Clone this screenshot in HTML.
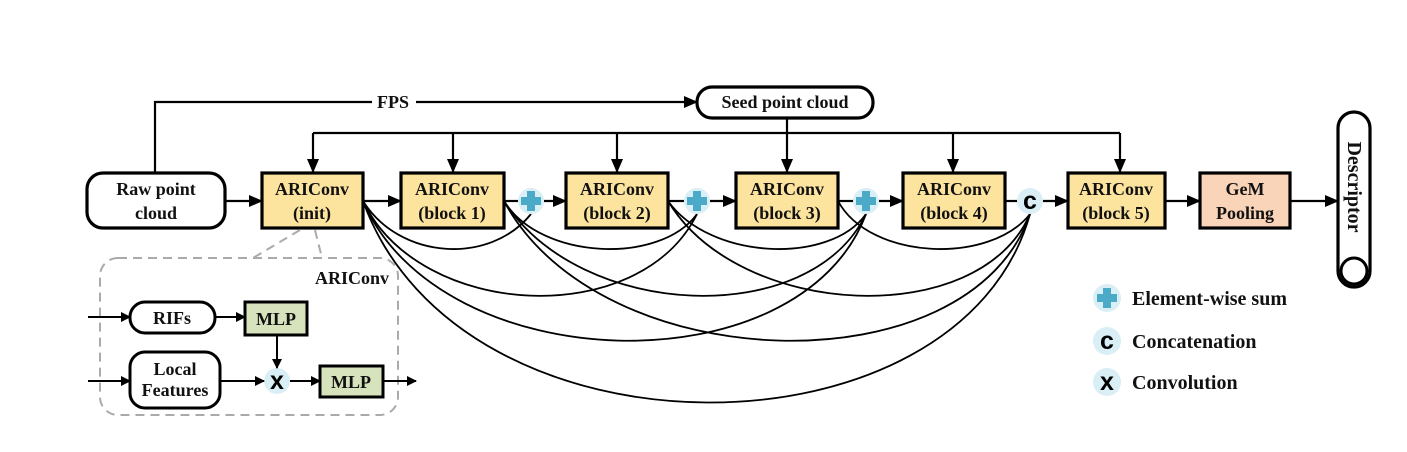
<!DOCTYPE html>
<html><head><meta charset="utf-8"><style>
html,body{margin:0;padding:0;background:#fff;}
svg{display:block;}
text{font-family:"Liberation Serif",serif;font-weight:bold;fill:#111;}
.g{font-family:"Liberation Sans",sans-serif;font-weight:900;fill:#000;}
</style></head><body>
<svg width="1407" height="452" viewBox="0 0 1407 452" xmlns="http://www.w3.org/2000/svg">
<defs>
<marker id="a" markerWidth="10" markerHeight="10" refX="9" refY="5" orient="auto" markerUnits="userSpaceOnUse"><path d="M0,0 L10,5 L0,10 z" fill="#000"/></marker>
<marker id="b" markerWidth="14" markerHeight="14" refX="13" refY="7" orient="auto" markerUnits="userSpaceOnUse"><path d="M0,1 L14,7 L0,13 z" fill="#000"/></marker>
</defs>
<g stroke="#000" stroke-width="2.2" fill="none">
<polyline points="155,172 155,102 697,102" marker-end="url(#b)"/>
<line x1="787" y1="118" x2="787" y2="133"/>
<line x1="313" y1="133" x2="1120" y2="133"/>
<line x1="313" y1="133" x2="313" y2="172" marker-end="url(#b)"/>
<line x1="453" y1="133" x2="453" y2="172" marker-end="url(#b)"/>
<line x1="617" y1="133" x2="617" y2="172" marker-end="url(#b)"/>
<line x1="787" y1="133" x2="787" y2="172" marker-end="url(#b)"/>
<line x1="953" y1="133" x2="953" y2="172" marker-end="url(#b)"/>
<line x1="1120" y1="133" x2="1120" y2="172" marker-end="url(#b)"/>
<line x1="225" y1="201" x2="262" y2="201" marker-end="url(#b)"/>
<line x1="363" y1="201" x2="401" y2="201" marker-end="url(#b)"/>
<line x1="504" y1="201" x2="518" y2="201"/>
<line x1="544" y1="201" x2="566" y2="201" marker-end="url(#b)"/>
<line x1="668" y1="201" x2="684" y2="201"/>
<line x1="710" y1="201" x2="736" y2="201" marker-end="url(#b)"/>
<line x1="838" y1="201" x2="853" y2="201"/>
<line x1="879" y1="201" x2="903" y2="201" marker-end="url(#b)"/>
<line x1="1005" y1="201" x2="1017" y2="201"/>
<line x1="1043" y1="201" x2="1068" y2="201" marker-end="url(#b)"/>
<line x1="1165" y1="201" x2="1200" y2="201" marker-end="url(#b)"/>
<line x1="1290" y1="201" x2="1338" y2="201" marker-end="url(#b)"/>
</g>
<g stroke="#000" stroke-width="1.8" fill="none">
<path d="M363,201 C400,260 490,265 531,214"/>
<path d="M363,201 C420,320 640,330 697,214"/>
<path d="M363,201 C440,380 800,390 866,214"/>
<path d="M363,201 C460,470 960,465 1030,214"/>
<path d="M504,201 C540,260 660,265 697,214"/>
<path d="M504,201 C580,320 810,330 866,214"/>
<path d="M504,201 C600,380 970,390 1030,214"/>
<path d="M668,201 C710,260 830,265 866,214"/>
<path d="M668,201 C740,320 980,330 1030,214"/>
<path d="M838,201 C870,260 990,265 1030,214"/>
</g>
<g stroke="#000" stroke-width="3.2">
<rect x="87" y="173" width="138" height="55" rx="16" fill="#fff"/>
<rect x="697" y="87" width="176" height="31" rx="15" fill="#fff"/>
<rect x="262" y="173" width="101" height="55" fill="#fde49e"/>
<rect x="401" y="173" width="103" height="55" fill="#fde49e"/>
<rect x="566" y="173" width="102" height="55" fill="#fde49e"/>
<rect x="736" y="173" width="102" height="55" fill="#fde49e"/>
<rect x="903" y="173" width="102" height="55" fill="#fde49e"/>
<rect x="1068" y="173" width="97" height="55" fill="#fde49e"/>
<rect x="1200" y="173" width="90" height="55" fill="#f9d4b8"/>
<rect x="1338" y="112" width="32" height="175" rx="16" fill="#fff"/>
</g>
<circle cx="1354" cy="271" r="13" fill="none" stroke="#000" stroke-width="3"/>
<g fill="#d9eef5">
<circle cx="531" cy="201" r="13"/><circle cx="697" cy="201" r="13"/><circle cx="866" cy="201" r="13"/><circle cx="1030" cy="201" r="13"/>
<circle cx="1107" cy="298" r="14"/><circle cx="1107" cy="341" r="14"/><circle cx="1107" cy="382" r="14"/>
<circle cx="277" cy="381" r="13"/>
</g>
<g fill="#4aaac8">
<rect x="527" y="191" width="8" height="20"/><rect x="521" y="197" width="20" height="8"/>
<rect x="693" y="191" width="8" height="20"/><rect x="687" y="197" width="20" height="8"/>
<rect x="862" y="191" width="8" height="20"/><rect x="856" y="197" width="20" height="8"/>
<rect x="1103" y="288" width="8" height="20"/><rect x="1097" y="294" width="20" height="8"/>
</g>
<g font-size="25" text-anchor="middle">
<text class="g" x="1030" y="209">c</text>
<text class="g" x="1107" y="349">c</text>
<text class="g" x="1107" y="390">x</text>
<text class="g" x="277" y="389">x</text>
</g>
<g font-size="18" text-anchor="middle">
<rect x="372" y="93" width="44" height="16" fill="#fff"/>
<text x="393" y="108">FPS</text>
<text x="785" y="108">Seed point cloud</text>
<text x="156" y="195">Raw point</text><text x="156" y="219">cloud</text>
<text x="312" y="195">ARIConv</text><text x="312" y="219">(init)</text>
<text x="452" y="195">ARIConv</text><text x="452" y="219">(block 1)</text>
<text x="617" y="195">ARIConv</text><text x="617" y="219">(block 2)</text>
<text x="787" y="195">ARIConv</text><text x="787" y="219">(block 3)</text>
<text x="954" y="195">ARIConv</text><text x="954" y="219">(block 4)</text>
<text x="1116" y="195">ARIConv</text><text x="1116" y="219">(block 5)</text>
<text x="1245" y="195">GeM</text><text x="1245" y="219">Pooling</text>
<text transform="translate(1348,187) rotate(90)" font-size="20">Descriptor</text>
</g>
<g font-size="20">
<text x="1132" y="305">Element-wise sum</text>
<text x="1132" y="348">Concatenation</text>
<text x="1132" y="389">Convolution</text>
</g>
<g stroke="#aaa" stroke-width="2" stroke-dasharray="9,6" fill="none">
<line x1="300" y1="230" x2="253" y2="258"/>
<line x1="315" y1="230" x2="322" y2="258"/>
<rect x="100" y="258" width="298" height="157" rx="18"/>
</g>
<g stroke="#000" stroke-width="2" fill="none">
<line x1="88" y1="317" x2="130" y2="317" marker-end="url(#a)"/>
<line x1="215" y1="317" x2="245" y2="317" marker-end="url(#a)"/>
<line x1="88" y1="381" x2="130" y2="381" marker-end="url(#a)"/>
<line x1="220" y1="381" x2="264" y2="381" marker-end="url(#a)"/>
<line x1="277" y1="335" x2="277" y2="368" marker-end="url(#a)"/>
<line x1="290" y1="381" x2="320" y2="381" marker-end="url(#a)"/>
<line x1="383" y1="381" x2="416" y2="381" marker-end="url(#a)"/>
</g>
<g stroke="#000" stroke-width="3">
<rect x="130" y="302" width="85" height="31" rx="15" fill="#fff"/>
<rect x="245" y="302" width="62" height="33" fill="#d6e3bd"/>
<rect x="130" y="352" width="90" height="56" rx="15" fill="#fff"/>
<rect x="320" y="366" width="63" height="31" fill="#d6e3bd"/>
</g>
<g font-size="18" text-anchor="middle">
<text x="389" y="284" text-anchor="end">ARIConv</text>
<text x="172" y="324">RIFs</text>
<text x="276" y="325">MLP</text>
<text x="175" y="375">Local</text><text x="175" y="396">Features</text>
<text x="351" y="388">MLP</text>
</g>
</svg>
</body></html>
